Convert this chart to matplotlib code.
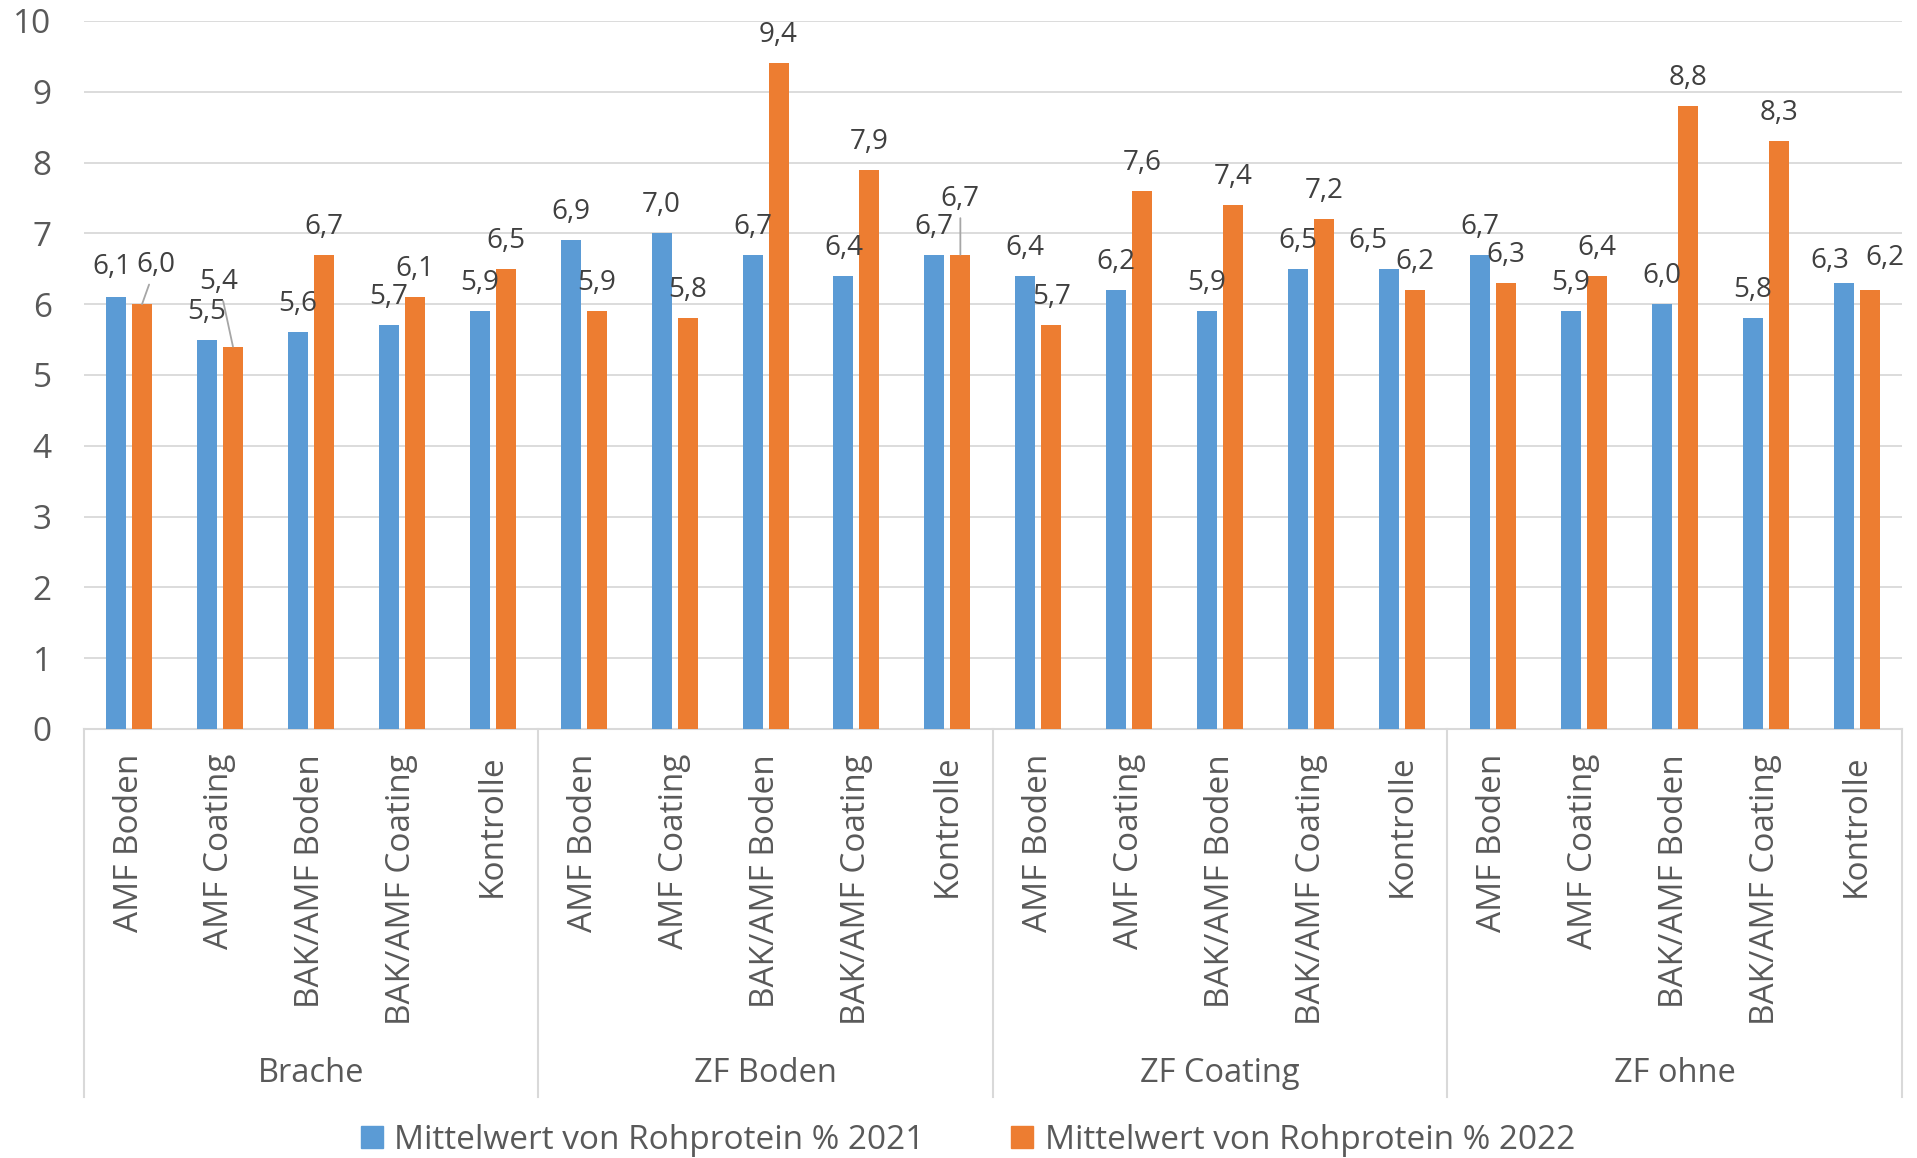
import matplotlib
matplotlib.use("Agg")
import matplotlib.pyplot as plt
from matplotlib.patches import Patch
import numpy as np

plt.rcParams['font.family'] = ['Open Sans', 'DejaVu Sans']

# data
groups = ["Brache", "ZF Boden", "ZF Coating", "ZF ohne"]
treatments = ["AMF Boden", "AMF Coating", "BAK/AMF Boden", "BAK/AMF Coating", "Kontrolle"]
protein_2021 = [6.1, 5.5, 5.6, 5.7, 5.9,
                6.9, 7.0, 6.7, 6.4, 6.7,
                6.4, 6.2, 5.9, 6.5, 6.5,
                6.7, 5.9, 6.0, 5.8, 6.3]
protein_2022 = [6.0, 5.4, 6.7, 6.1, 6.5,
                5.9, 5.8, 9.4, 7.9, 6.7,
                5.7, 7.6, 7.4, 7.2, 6.2,
                6.3, 6.4, 8.8, 8.3, 6.2]
series_names = ["Mittelwert von Rohprotein % 2021", "Mittelwert von Rohprotein % 2022"]

BLUE = "#5B9BD5"
ORANGE = "#ED7D31"
GRID = "#D9D9D9"
TXT = "#595959"
LBL = "#404040"

# label nudges in pixels (dx, dy) for labels Excel moved, keyed by (series, index)
label_nudge = {
    (0, 0): (-4, -30),
    (1, 0): (14, -39),
    (1, 1): (-14, -65),
    (1, 9): (0, -56),
    (0, 14): (-21, -28),
    (0, 19): (-14, -22),
    (1, 19): (15, -32),
}
leader = {(1, 0), (1, 1), (1, 9)}

fig = plt.figure(figsize=(19.17, 11.58), dpi=100)
ax = fig.add_axes([0.0436, 0.3705, 0.9486, 0.6114])

x = np.arange(len(protein_2021))
w = 0.22
off = 0.143
b1 = ax.bar(x - off, protein_2021, w, color=BLUE, zorder=3)
b2 = ax.bar(x + off, protein_2022, w, color=ORANGE, zorder=3)

ax.set_xlim(-0.5, len(x) - 0.5)
ax.set_ylim(0, 10)
ax.set_yticks(range(0, 11))
ax.yaxis.grid(True, color=GRID, linewidth=1.3, zorder=0)
ax.set_axisbelow(True)
for s in ["top", "right", "left"]:
    ax.spines[s].set_visible(False)
ax.spines["bottom"].set_color(GRID)
ax.spines["bottom"].set_linewidth(1.5)
ax.tick_params(axis="y", length=0, pad=23, labelsize=24, labelcolor=TXT)

ax.set_xticks(x)
ax.set_xticklabels(treatments * len(groups), rotation=90, va="top", ha="center")
ax.tick_params(axis="x", length=0, pad=18, labelsize=24, labelcolor=TXT)

# data labels
px = 0.72
for si, (bars, vals) in enumerate([(b1, protein_2021), (b2, protein_2022)]):
    for i, (bar, v) in enumerate(zip(bars, vals)):
        dx, dy = label_nudge.get((si, i), (0, -28))
        cx = bar.get_x() + bar.get_width() / 2
        arrow = None
        if (si, i) in leader:
            arrow = dict(arrowstyle="-", color="#A6A6A6", lw=1.3, shrinkA=2, shrinkB=0)
        ax.annotate(f"{v:.1f}".replace(".", ","), xy=(cx, v),
                    xytext=(dx * px, -dy * px), textcoords="offset points",
                    ha="center", va="center", fontsize=20, color=LBL,
                    arrowprops=arrow, zorder=4)

# group separators and group labels
trans = ax.get_xaxis_transform()
n = len(treatments)
for k in range(len(groups) + 1):
    xb = k * n - 0.5
    ax.plot([xb, xb], [0, -0.52], transform=trans, color=GRID, lw=1.5, clip_on=False)
for k, g in enumerate(groups):
    ax.text(k * n + (n - 1) / 2, -0.486, g, transform=trans, ha="center", va="center",
            fontsize=23.5, color=TXT)

handles = [Patch(color=BLUE), Patch(color=ORANGE)]
fig.legend(handles, series_names, loc="center", bbox_to_anchor=(0.505, 0.0155), ncol=2,
           frameon=False, fontsize=24, labelcolor=TXT, handlelength=0.65, handleheight=0.65,
           handletextpad=0.35, columnspacing=2.6, borderaxespad=0)

fig.savefig("out.png", dpi=100)
